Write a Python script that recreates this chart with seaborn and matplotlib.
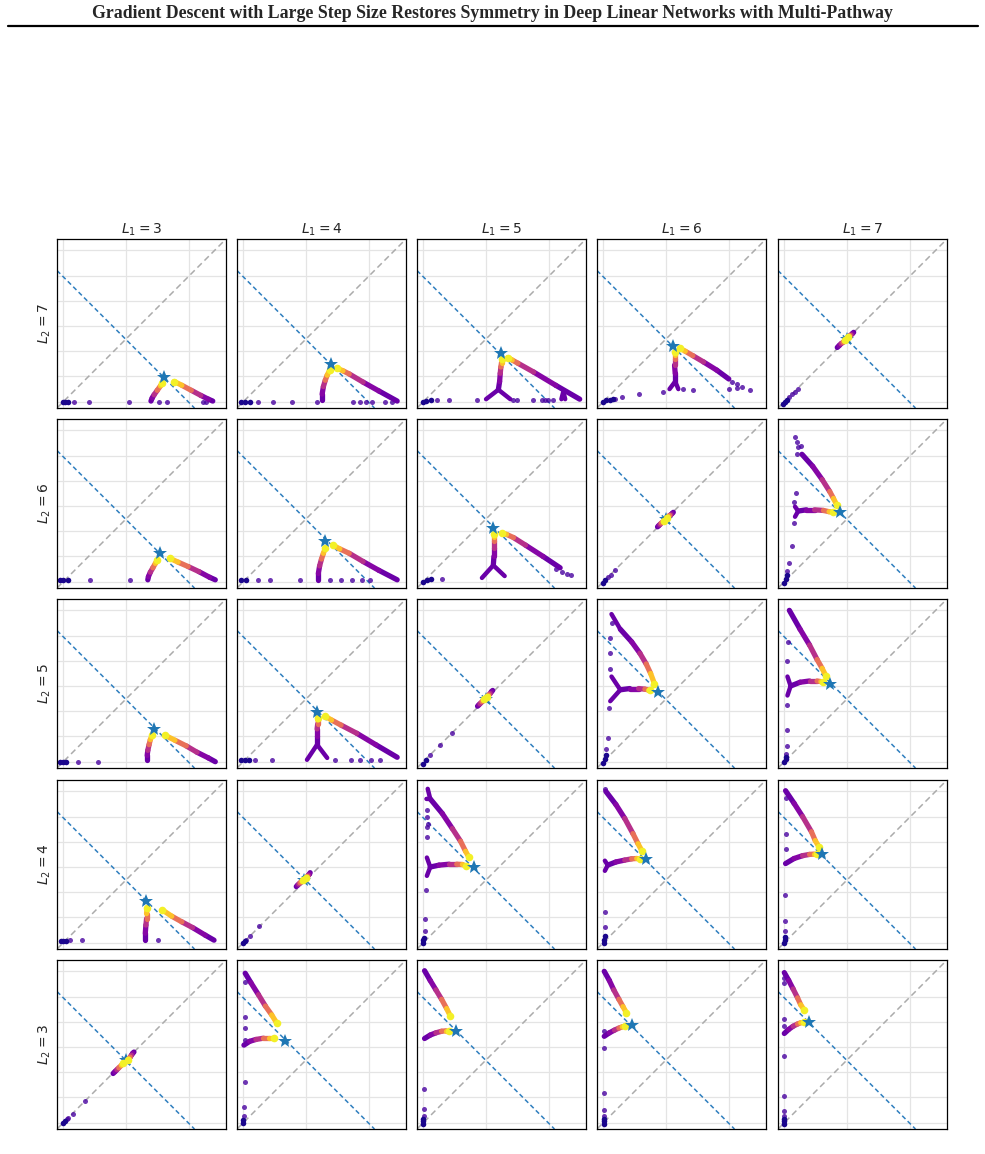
import matplotlib
matplotlib.use("Agg")
import matplotlib.pyplot as plt
from matplotlib.collections import LineCollection
import seaborn as sns

TITLE = "Gradient Descent with Large Step Size Restores Symmetry in Deep Linear Networks with Multi-Pathway"

L1_VALUES = [3, 4, 5, 6, 7]          # columns
L2_VALUES = [7, 6, 5, 4, 3]          # rows, top to bottom
LINE_SUM = 1.98                      # blue dashed line x + y = const

# colour of the keypoints along each path (plasma), far end -> star end
SHADES = [0.18, 0.22, 0.32, 0.52, 0.76, 0.98]

# star position per panel [row][col]
STAR_X = [
    [1.59, 1.39, 1.23, 1.11, 0.99],
    [1.53, 1.30, 1.11, 0.99, 0.88],
    [1.44, 1.17, 0.99, 0.86, 0.72],
    [1.31, 0.97, 0.80, 0.68, 0.59],
    [0.99, 0.66, 0.52, 0.45, 0.39],
]
STAR_Y = [
    [0.39, 0.60, 0.77, 0.89, 0.99],
    [0.45, 0.64, 0.85, 0.99, 1.10],
    [0.52, 0.79, 1.00, 1.11, 1.23],
    [0.66, 0.99, 1.20, 1.32, 1.40],
    [0.99, 1.30, 1.46, 1.55, 1.60],
]

# path A: the short branch (vertical / horizontal), keypoints far end -> star end
PATH_A_X = [
    [[1.39, 1.41, 1.44, 1.49, 1.54, 1.57], [1.25, 1.25, 1.27, 1.30, 1.33, 1.37], [1.19, 1.21, 1.22, 1.23, 1.24, 1.24],
     [1.14, 1.14, 1.13, 1.13, 1.13, 1.13], [0.84, 0.87, 0.90, 0.93, 0.95, 0.97]],
    [[1.34, 1.35, 1.38, 1.42, 1.46, 1.49], [1.19, 1.19, 1.21, 1.24, 1.27, 1.30], [1.11, 1.12, 1.12, 1.12, 1.12, 1.12],
     [0.86, 0.88, 0.90, 0.92, 0.95, 0.97], [0.22, 0.35, 0.48, 0.62, 0.71, 0.78]],
    [[1.33, 1.33, 1.34, 1.36, 1.38, 1.41], [1.17, 1.17, 1.17, 1.18, 1.18, 1.19], [0.86, 0.88, 0.90, 0.93, 0.95, 0.97],
     [0.27, 0.42, 0.56, 0.66, 0.71, 0.74], [0.10, 0.25, 0.40, 0.52, 0.58, 0.62]],
    [[1.30, 1.30, 1.31, 1.32, 1.32, 1.33], [0.84, 0.86, 0.88, 0.90, 0.93, 0.95], [0.11, 0.25, 0.41, 0.53, 0.62, 0.67],
     [0.07, 0.20, 0.34, 0.45, 0.53, 0.58], [0.02, 0.155, 0.29, 0.40, 0.47, 0.52]],
    [[0.79, 0.82, 0.85, 0.88, 0.92, 0.95], [0.01, 0.10, 0.20, 0.32, 0.41, 0.48], [0.02, 0.11, 0.20, 0.29, 0.36, 0.41],
     [0.015, 0.096, 0.177, 0.247, 0.30, 0.34], [0.00, 0.07, 0.14, 0.21, 0.26, 0.31]],
]
PATH_A_Y = [
    [[0.01, 0.06, 0.11, 0.18, 0.25, 0.30], [0.02, 0.12, 0.24, 0.34, 0.42, 0.50], [0.19, 0.32, 0.45, 0.55, 0.62, 0.67],
     [0.32, 0.45, 0.58, 0.68, 0.74, 0.79], [0.86, 0.89, 0.92, 0.94, 0.96, 0.98]],
    [[0.03, 0.08, 0.15, 0.22, 0.29, 0.34], [0.03, 0.13, 0.25, 0.36, 0.45, 0.53], [0.26, 0.40, 0.54, 0.64, 0.71, 0.76],
     [0.87, 0.89, 0.91, 0.93, 0.95, 0.97], [1.12, 1.14, 1.14, 1.13, 1.11, 1.10]],
    [[0.03, 0.10, 0.18, 0.27, 0.35, 0.42], [0.27, 0.40, 0.52, 0.60, 0.66, 0.70], [0.88, 0.90, 0.92, 0.95, 0.97, 0.99],
     [1.14, 1.16, 1.16, 1.15, 1.14, 1.14], [1.20, 1.26, 1.28, 1.28, 1.27, 1.26]],
    [[0.04, 0.15, 0.28, 0.38, 0.46, 0.55], [0.89, 0.91, 0.93, 0.95, 0.97, 0.99], [1.20, 1.23, 1.245, 1.245, 1.24, 1.22],
     [1.23, 1.28, 1.31, 1.33, 1.335, 1.33], [1.255, 1.335, 1.38, 1.40, 1.405, 1.405]],
    [[0.78, 0.81, 0.84, 0.87, 0.91, 0.94], [1.23, 1.29, 1.32, 1.34, 1.34, 1.34], [1.335, 1.39, 1.425, 1.45, 1.457, 1.457],
     [1.37, 1.425, 1.468, 1.50, 1.52, 1.53], [1.415, 1.48, 1.53, 1.565, 1.585, 1.59]],
]

# path B: the long diagonal branch, keypoints far end -> star end
PATH_B_X = [
    [[2.37, 2.30, 2.18, 2.03, 1.88, 1.76], [2.44, 2.15, 1.90, 1.68, 1.58, 1.49], [2.48, 2.10, 1.75, 1.50, 1.41, 1.34],
     [1.99, 1.80, 1.59, 1.42, 1.30, 1.21], [1.10, 1.08, 1.06, 1.04, 1.03, 1.01]],
    [[2.41, 2.32, 2.15, 1.98, 1.82, 1.69], [2.44, 2.15, 1.90, 1.68, 1.53, 1.42], [2.17, 1.90, 1.62, 1.43, 1.32, 1.25],
     [1.11, 1.09, 1.07, 1.05, 1.03, 1.01], [0.28, 0.45, 0.60, 0.72, 0.78, 0.83]],
    [[2.41, 2.30, 2.12, 1.95, 1.77, 1.61], [2.44, 2.10, 1.80, 1.55, 1.40, 1.30], [1.10, 1.08, 1.06, 1.04, 1.03, 1.01],
     [0.27, 0.45, 0.58, 0.68, 0.75, 0.81], [0.08, 0.25, 0.40, 0.52, 0.60, 0.66]],
    [[2.39, 2.25, 2.05, 1.88, 1.72, 1.57], [1.06, 1.05, 1.03, 1.02, 1.01, 0.99], [0.11, 0.30, 0.46, 0.59, 0.67, 0.72],
     [0.04, 0.20, 0.34, 0.47, 0.55, 0.61], [0.02, 0.155, 0.29, 0.43, 0.49, 0.55]],
    [[1.12, 1.10, 1.08, 1.06, 1.04, 1.02], [0.03, 0.12, 0.24, 0.35, 0.45, 0.53], [0.02, 0.11, 0.20, 0.29, 0.37, 0.43],
     [0.015, 0.096, 0.166, 0.247, 0.312, 0.366], [0.00, 0.07, 0.14, 0.21, 0.26, 0.32]],
]
PATH_B_Y = [
    [[0.01, 0.04, 0.10, 0.18, 0.26, 0.32], [0.01, 0.17, 0.31, 0.44, 0.49, 0.53], [0.04, 0.26, 0.47, 0.61, 0.66, 0.70],
     [0.36, 0.50, 0.63, 0.73, 0.80, 0.85], [1.10, 1.08, 1.06, 1.05, 1.03, 1.02]],
    [[0.03, 0.07, 0.16, 0.24, 0.31, 0.37], [0.03, 0.18, 0.32, 0.45, 0.52, 0.58], [0.22, 0.40, 0.58, 0.70, 0.75, 0.77],
     [1.10, 1.08, 1.06, 1.05, 1.03, 1.01], [2.02, 1.83, 1.62, 1.43, 1.32, 1.22]],
    [[0.00, 0.06, 0.15, 0.25, 0.34, 0.42], [0.07, 0.27, 0.45, 0.58, 0.66, 0.72], [1.13, 1.11, 1.08, 1.06, 1.04, 1.02],
     [2.10, 1.90, 1.72, 1.55, 1.40, 1.24], [2.40, 2.10, 1.85, 1.62, 1.48, 1.36]],
    [[0.04, 0.12, 0.24, 0.33, 0.42, 0.52], [1.11, 1.09, 1.07, 1.05, 1.04, 1.02], [2.28, 2.05, 1.81, 1.61, 1.45, 1.36],
     [2.40, 2.19, 1.97, 1.73, 1.57, 1.46], [2.41, 2.21, 2.00, 1.76, 1.62, 1.52]],
    [[1.12, 1.10, 1.07, 1.04, 1.01, 0.99], [2.37, 2.22, 2.03, 1.85, 1.71, 1.58], [2.41, 2.255, 2.106, 1.957, 1.81, 1.69],
     [2.40, 2.255, 2.106, 1.957, 1.84, 1.745], [2.38, 2.255, 2.12, 1.98, 1.87, 1.78]],
]

# forked stubs at the far end of the paths (one x list / y list per stub)
FORK_X = [
    [[], [], [[0.995, 1.19, 1.38], [2.19, 2.22, 2.25]], [[1.05, 1.14, 1.19]], []],
    [[], [], [[0.93, 1.11, 1.29]], [], [[0.17, 0.22, 0.17]]],
    [[], [[1.01, 1.17, 1.33]], [], [[0.13, 0.27, 0.11], [0.13, 0.27]], [[0.05, 0.10, 0.05]]],
    [[], [], [[0.057, 0.11, 0.057], [0.07, 0.11, 0.05]], [[0.025, 0.07, 0.025]], []],
    [[], [], [], [], []],
]
FORK_Y = [
    [[], [], [[0.04, 0.19, 0.04], [0.04, 0.16, 0.04]], [[0.20, 0.32, 0.20]], []],
    [[], [], [[0.06, 0.26, 0.09]], [], [[1.19, 1.12, 1.03]]],
    [[], [[0.03, 0.27, 0.06]], [], [[1.35, 1.14, 0.96], [2.34, 2.10]], [[1.35, 1.20, 1.05]]],
    [[], [], [[1.35, 1.20, 1.06], [2.44, 2.28, 2.28]], [[1.30, 1.23, 1.14]], []],
    [[], [], [], [], []],
]

# isolated points (indigo)
DOT_X = [
    [[0.17, 0.41, 1.04, 1.52, 1.64, 2.21, 2.27],
     [0.23, 0.47, 0.77, 1.17, 1.74, 1.85, 1.95, 2.04, 2.25, 2.36],
     [0.21, 0.40, 0.85, 1.43, 1.48, 1.74, 1.88, 1.93, 1.98, 2.06],
     [2.04, 2.12, 2.20, 2.32, 1.99, 2.12, 1.27, 1.43, 0.95, 0.57, 0.30, 0.19],
     [0.08, 0.12, 0.17, 0.21]],
    [[0.42, 1.06],
     [0.23, 0.42, 0.90, 1.38, 1.55, 1.73, 1.88, 2.01],
     [2.10, 2.20, 2.28, 2.35, 0.30],
     [0.07, 0.12, 0.19],
     [0.17, 0.20, 0.26, 0.22, 0.20, 0.19, 0.15, 0.15, 0.12, 0.08, 0.05]],
    [[0.23, 0.55],
     [0.19, 0.45, 1.45, 1.70, 1.85, 2.03, 2.16],
     [0.11, 0.26, 0.45],
     [0.11, 0.11, 0.11, 0.13, 0.09, 0.07, 0.05],
     [0.06, 0.05, 0.05, 0.05, 0.04, 0.03]],
    [[0.10, 0.30, 1.50],
     [0.05, 0.10, 0.25],
     [0.057, 0.057, 0.074, 0.057, 0.057, 0.047, 0.03, 0.02],
     [0.025, 0.025, 0.03],
     [0.02, 0.02, 0.02, 0.01, 0.01, 0.01]],
    [[0.34, 0.15, 0.08, 0.06],
     [0.03, 0.03, 0.03, 0.03, 0.02, 0.01, 0.01],
     [0.004, 0.004, 0.004],
     [0.015, 0.015, 0.015, 0.015, 0.015],
     [0.00, 0.00, 0.00, 0.00, 0.00, 0.00, 0.00, 0.00]],
]
DOT_Y = [
    [[0.00, 0.00, 0.00, 0.00, 0.00, 0.00, 0.00],
     [0.00, 0.00, 0.00, 0.00, 0.00, 0.00, 0.00, 0.00, 0.00, 0.00],
     [0.03, 0.03, 0.03, 0.03, 0.03, 0.03, 0.03, 0.03, 0.03, 0.03],
     [0.32, 0.28, 0.24, 0.19, 0.20, 0.22, 0.20, 0.19, 0.15, 0.12, 0.07, 0.05],
     [0.08, 0.12, 0.16, 0.20]],
    [[0.03, 0.03],
     [0.03, 0.03, 0.03, 0.03, 0.03, 0.03, 0.03, 0.03],
     [0.20, 0.15, 0.12, 0.10, 0.05],
     [0.07, 0.11, 0.18],
     [2.30, 2.22, 2.15, 2.13, 2.03, 1.40, 1.26, 0.93, 0.56, 0.29, 0.17]],
    [[0.00, 0.00],
     [0.03, 0.03, 0.03, 0.03, 0.03, 0.03, 0.03],
     [0.10, 0.26, 0.45],
     [1.96, 1.72, 1.47, 2.20, 0.85, 0.38, 0.20],
     [1.90, 1.60, 0.90, 0.50, 0.25, 0.12]],
    [[0.04, 0.04, 0.04],
     [0.05, 0.10, 0.26],
     [2.11, 2.00, 1.89, 1.83, 1.67, 0.84, 0.37, 0.19],
     [0.49, 0.245, 2.44],
     [2.29, 1.72, 1.48, 0.75, 0.34, 0.18]],
    [[0.34, 0.14, 0.08, 0.06],
     [2.23, 1.67, 1.50, 1.31, 0.65, 0.25, 0.10],
     [0.54, 0.22, 0.11],
     [1.457, 1.19, 0.47, 0.20, 0.11],
     [2.30, 2.22, 1.65, 1.53, 1.05, 0.42, 0.19, 0.11]],
]

# dense dark cluster next to the origin
NEAR0_X = [
    [[-0.01, 0.03, 0.08], [-0.04, 0.03, 0.11], [0.00, 0.05, 0.12], [0.00, 0.05, 0.10, 0.15], [-0.02, 0.01, 0.04]],
    [[-0.05, 0.00, 0.08], [-0.04, 0.04], [0.00, 0.06, 0.12], [0.00, 0.03], [0.00, 0.02, 0.04]],
    [[-0.05, 0.00, 0.04], [-0.04, 0.03, 0.09], [0.00, 0.04], [0.00, 0.02, 0.04], [0.00, 0.02, 0.03]],
    [[-0.03, 0.00, 0.04], [0.00, 0.02], [0.00, 0.00, 0.01], [0.01, 0.01, 0.02], [0.00, 0.01, 0.01]],
    [[0.00, 0.02], [0.00, 0.00], [0.00, 0.00, 0.00], [0.01, 0.01, 0.01], [0.00, 0.00, 0.00]],
]
NEAR0_Y = [
    [[0.00, 0.00, 0.00], [0.00, 0.00, 0.00], [0.00, 0.01, 0.02], [0.00, 0.02, 0.03, 0.05], [-0.03, 0.00, 0.03]],
    [[0.03, 0.03, 0.03], [0.03, 0.03], [0.00, 0.02, 0.04], [-0.02, 0.02], [-0.02, 0.04, 0.10]],
    [[0.00, 0.00, 0.00], [0.02, 0.02, 0.02], [-0.03, 0.02], [-0.02, 0.04, 0.10], [0.00, 0.04, 0.08]],
    [[0.03, 0.03, 0.03], [0.00, 0.02], [-0.01, 0.04, 0.08], [-0.01, 0.05, 0.10], [-0.01, 0.04, 0.09]],
    [[0.00, 0.02], [0.00, 0.04], [-0.02, 0.02, 0.06], [-0.02, 0.02, 0.06], [-0.02, 0.02, 0.06]],
]

sns.set_theme(style="whitegrid", rc={
    "grid.color": "#e4e4e4", "grid.linewidth": 0.9,
    "axes.edgecolor": "black", "axes.linewidth": 0.9,
})
plt.rcParams["font.family"] = ["DejaVu Sans"]
plasma = plt.get_cmap("plasma")

fig = plt.figure(figsize=(9.85, 11.54), dpi=100)
W, H = 985, 1154
fig.text(0.5, 1 - 14 / H, TITLE, ha="center", va="center",
         family="Liberation Serif", weight="bold", fontsize=12.8)
fig.add_artist(plt.Line2D([8 / W, 978 / W], [1 - 26 / H] * 2, color="black", lw=1.6))

col_left = [57, 237, 417, 597, 778]
row_top = [239, 419, 599, 780, 960]
side = 169
lo, hi = -0.1, 2.58


def draw_path(ax, xs, ys):
    pts = list(zip(xs, ys))
    segs = [[pts[i], pts[i + 1]] for i in range(len(pts) - 1)]
    cols = [plasma((SHADES[i] + SHADES[i + 1]) / 2) for i in range(len(pts) - 1)]
    ax.add_collection(LineCollection(segs, colors=cols, linewidths=3.8,
                                     capstyle="round", joinstyle="round", zorder=3))
    ax.scatter(xs[-1], ys[-1], color=plasma(SHADES[-1]), s=30, linewidth=0, zorder=4)


for r, l2 in enumerate(L2_VALUES):
    for c, l1 in enumerate(L1_VALUES):
        ax = fig.add_axes([col_left[c] / W, 1 - (row_top[r] + side) / H, side / W, side / H])
        ax.set_xlim(lo, hi)
        ax.set_ylim(lo, hi)
        ax.set_xticks([0, 1, 2])
        ax.set_yticks([0, 0.4, 0.8, 1.2, 1.6, 2.0, 2.4])
        ax.tick_params(labelbottom=False, labelleft=False, length=0)
        for s in ax.spines.values():
            s.set_color("black")

        ax.axline((0, 0), (1, 1), color="#ababab", ls=(0, (4, 2.5)), lw=1.1, zorder=1)
        ax.axline((0, LINE_SUM), (LINE_SUM, 0), color="#2f7fbf", ls=(0, (3, 2)), lw=1.1, zorder=1)

        sns.scatterplot(x=DOT_X[r][c], y=DOT_Y[r][c], color=plasma(0.12), s=13, alpha=0.8,
                        linewidth=0, ax=ax, legend=False, zorder=2)
        sns.scatterplot(x=NEAR0_X[r][c], y=NEAR0_Y[r][c], color=plasma(0.02), s=16,
                        linewidth=0, ax=ax, legend=False, zorder=2)
        for fx, fy in zip(FORK_X[r][c], FORK_Y[r][c]):
            ax.plot(fx, fy, color=plasma(0.2), lw=3.2, solid_capstyle="round",
                    solid_joinstyle="round", zorder=3)

        diag = (l1 == l2)
        ax.plot(STAR_X[r][c], STAR_Y[r][c], marker="*", color="#1f77b4", markersize=10,
                markeredgewidth=0, zorder=2.5 if diag else 6)
        draw_path(ax, PATH_A_X[r][c], PATH_A_Y[r][c])
        draw_path(ax, PATH_B_X[r][c], PATH_B_Y[r][c])
        ax.set_xlabel("")
        ax.set_ylabel("")

        if r == 0:
            ax.set_title(f"$L_1 = {l1}$", fontsize=10, pad=4)
        if c == 0:
            ax.text(-0.072, 0.5, f"$L_2 = {l2}$", transform=ax.transAxes, rotation=90,
                    ha="center", va="center", fontsize=10)

fig.savefig("out.png", dpi=100)
